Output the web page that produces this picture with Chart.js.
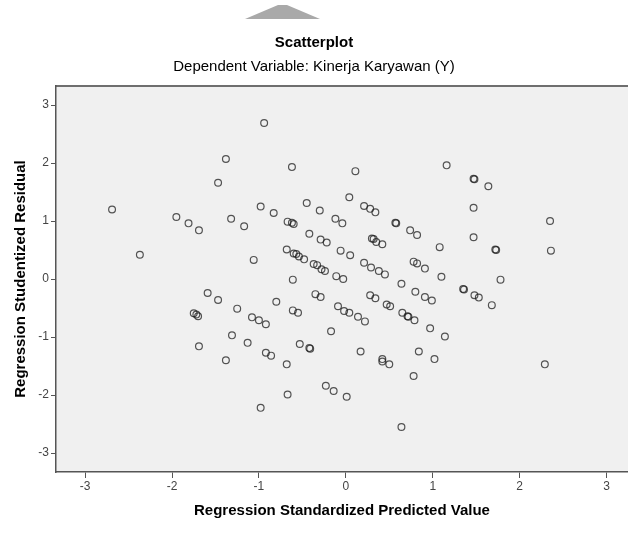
<!DOCTYPE html>
<html>
<head>
<meta charset="utf-8">
<script src="https://cdn.jsdelivr.net/npm/chart.js@4.4.1/dist/chart.umd.min.js"></script>
<style>
  html, body { margin: 0; padding: 0; background: #ffffff; }
  #scatter_chart { display: block; }
</style>
</head>
<body>
<canvas id="scatter_chart" width="628" height="533"></canvas>
<script>
const predictedValues = [
    -2.69, -2.37, -1.95, -1.81, -1.69, -1.47, -0.94, -1.38, -0.62, 0.11,
    0.04, -0.45, -0.98, -0.30, 0.21, 0.28, 0.34, -0.83, -1.32, -1.17,
    -0.12, -0.04, -0.67, -0.60, -0.62, 0.57, 0.58, 0.74, 0.82, -0.42,
    -0.29, -0.22, 0.30, 0.32, 0.35, 0.42, -0.06, 0.05, -1.06, -0.68,
    -0.60, -0.57, -0.54, -0.48, -0.37, -0.33, -0.28, -0.24, 0.21, 0.29,
    0.38, 0.45, -0.11, -0.03, 0.78, 0.82, -0.61, 1.16, 1.47, 1.48,
    1.64, 1.47, 2.35, 1.08, 1.47, 1.72, 1.73, 2.36, 0.91, 1.10,
    1.78, -1.59, -1.47, -1.75, -1.72, -1.70, -1.69, 0.64, 0.80, -1.25,
    -0.80, -1.08, -1.00, -0.92, -0.61, -0.55, -0.35, -0.29, -0.09, -0.02,
    0.04, 0.14, 0.22, 0.28, 0.34, 0.47, 0.51, 0.65, 0.71, 0.72,
    0.79, -1.31, -1.13, -0.92, -0.86, -1.38, -0.68, -0.53, -0.42, -0.41,
    -0.17, 0.17, 0.42, 0.42, 0.50, 0.78, 0.84, -0.67, -0.98, -0.23,
    -0.14, 0.01, 0.64, 0.91, 0.99, 1.35, 1.36, 1.48, 1.53, 1.68,
    0.97, 1.14, 1.02, 2.29
];
const studentizedResiduals = [
    1.20, 0.42, 1.07, 0.96, 0.84, 1.66, 2.69, 2.07, 1.93, 1.86,
    1.41, 1.31, 1.25, 1.18, 1.26, 1.21, 1.15, 1.14, 1.04, 0.91,
    1.04, 0.96, 0.99, 0.95, 0.97, 0.97, 0.96, 0.84, 0.76, 0.78,
    0.68, 0.63, 0.70, 0.69, 0.64, 0.60, 0.49, 0.41, 0.33, 0.51,
    0.44, 0.43, 0.39, 0.34, 0.26, 0.24, 0.17, 0.14, 0.28, 0.20,
    0.14, 0.08, 0.05, 0.00, 0.30, 0.27, -0.01, 1.96, 1.73, 1.72,
    1.60, 1.23, 1.00, 0.55, 0.72, 0.51, 0.50, 0.49, 0.18, 0.04,
    -0.01, -0.24, -0.36, -0.59, -0.61, -0.64, -1.16, -0.08, -0.22, -0.51,
    -0.39, -0.66, -0.71, -0.78, -0.54, -0.58, -0.26, -0.31, -0.47, -0.55,
    -0.58, -0.65, -0.73, -0.28, -0.33, -0.44, -0.47, -0.58, -0.64, -0.65,
    -0.71, -0.97, -1.10, -1.27, -1.32, -1.40, -1.47, -1.12, -1.19, -1.20,
    -0.90, -1.25, -1.38, -1.42, -1.47, -1.67, -1.25, -1.99, -2.22, -1.84,
    -1.93, -2.03, -2.55, -0.31, -0.37, -0.17, -0.18, -0.28, -0.32, -0.45,
    -0.85, -0.99, -1.38, -1.47
];
const axisTicks = [-3, -2, -1, 0, 1, 2, 3];

const fontFamily = "'Liberation Sans', Arial, sans-serif";

// grey plot background, top border and the small SPSS tab triangle
const plotFrame = {
    id: "plotFrame",
    beforeDraw: function (chart) {
        const ctx = chart.ctx, area = chart.chartArea;
        ctx.save();
        ctx.fillStyle = "#a9a9a9";
        ctx.beginPath();
        ctx.moveTo(245, 19);
        ctx.lineTo(278, 5);
        ctx.lineTo(287, 5);
        ctx.lineTo(320, 19);
        ctx.closePath();
        ctx.fill();
        ctx.fillStyle = "#f0f0f0";
        ctx.fillRect(area.left, area.top, area.right - area.left, area.bottom - area.top);
        ctx.strokeStyle = "#6e6e6e";
        ctx.lineWidth = 2;
        ctx.beginPath();
        ctx.moveTo(area.left, area.top);
        ctx.lineTo(area.right, area.top);
        ctx.stroke();
        ctx.restore();
    }
};

new Chart(document.getElementById("scatter_chart").getContext("2d"), {
    type: "scatter",
    data: {
        datasets: [{
            data: predictedValues.map(function (x, i) {
                return { x: x, y: studentizedResiduals[i] };
            }),
            pointStyle: "circle",
            pointRadius: 3.4,
            pointBorderWidth: 1.2,
            pointBackgroundColor: "rgba(0,0,0,0)",
            pointBorderColor: "rgba(30,30,30,0.75)"
        }]
    },
    options: {
        responsive: false,
        animation: false,
        layout: { padding: 0, autoPadding: false },
        plugins: {
            legend: { display: false },
            tooltip: { enabled: false },
            title: {
                display: true,
                text: "Scatterplot",
                color: "#000",
                font: { family: fontFamily, size: 15, weight: "bold", lineHeight: 1.2 },
                padding: { top: 34, bottom: 6 }
            },
            subtitle: {
                display: true,
                text: "Dependent Variable: Kinerja Karyawan (Y)",
                color: "#000",
                font: { family: fontFamily, size: 15, lineHeight: 1.2 },
                padding: { top: 0, bottom: 10 }
            }
        },
        scales: {
            x: {
                type: "linear",
                min: -3.335,
                max: 3.247,
                afterBuildTicks: function (scale) {
                    scale.ticks = axisTicks.map(function (v) { return { value: v }; });
                },
                afterFit: function (scale) {
                    scale.height = 61;
                    scale.paddingLeft = 0;
                    scale.paddingRight = 0;
                },
                ticks: {
                    color: "#444",
                    font: { family: fontFamily, size: 12 },
                    padding: 1,
                    maxRotation: 0
                },
                grid: {
                    drawOnChartArea: false,
                    drawTicks: true,
                    tickLength: 6,
                    color: "#555"
                },
                border: { display: true, color: "#555", width: 1.5 },
                title: {
                    display: true,
                    text: "Regression Standardized Predicted Value",
                    color: "#000",
                    font: { family: fontFamily, size: 15, weight: "bold", lineHeight: 1.2 },
                    padding: { top: 13, bottom: 13 }
                }
            },
            y: {
                type: "linear",
                min: -3.326,
                max: 3.328,
                afterBuildTicks: function (scale) {
                    scale.ticks = axisTicks.map(function (v) { return { value: v }; });
                },
                afterFit: function (scale) {
                    scale.width = 56;
                    scale.paddingTop = 0;
                    scale.paddingBottom = 0;
                },
                ticks: {
                    color: "#444",
                    font: { family: fontFamily, size: 12 },
                    padding: 2
                },
                grid: {
                    drawOnChartArea: false,
                    drawTicks: true,
                    tickLength: 5,
                    color: "#555"
                },
                border: { display: true, color: "#555", width: 1.5 },
                title: {
                    display: true,
                    text: "Regression Studentized Residual",
                    color: "#000",
                    font: { family: fontFamily, size: 15, weight: "bold", lineHeight: 1.2 },
                    padding: { top: 12, bottom: 12 }
                }
            }
        }
    },
    plugins: [plotFrame]
});
</script>
</body>
</html>
